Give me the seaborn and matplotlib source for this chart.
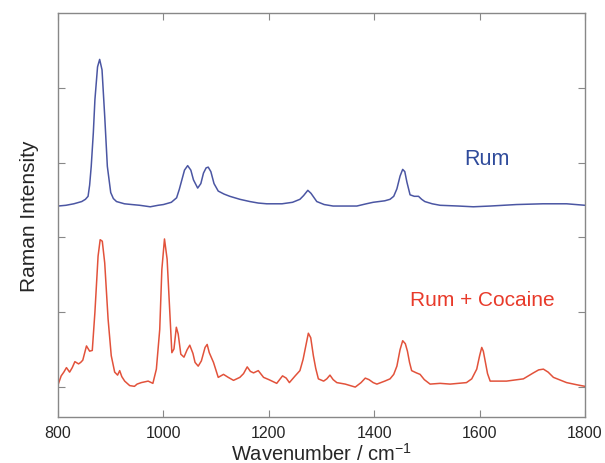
import pandas as pd
import matplotlib
matplotlib.use('Agg')
import matplotlib.pyplot as plt
import seaborn as sns

# Rum spectrum, intensity in arbitrary units
rum_wn = [800, 815, 830, 845, 852, 857, 860, 863, 867, 870, 875, 879, 883.5, 888.6,
          893.6, 900, 905, 911, 926, 940, 955, 975, 990, 1000, 1015, 1025, 1030, 1035,
          1040, 1046, 1052, 1057, 1065, 1071, 1076, 1081, 1085, 1090, 1096, 1104, 1115,
          1126, 1145, 1164, 1180, 1196, 1225, 1245, 1259, 1266, 1274, 1280, 1291, 1305,
          1322, 1345, 1367, 1385, 1398, 1420, 1430, 1437, 1443, 1449, 1454, 1458, 1462,
          1468, 1476, 1484, 1490, 1496, 1510, 1525, 1560, 1588, 1620, 1670, 1720, 1765, 1800]
rum_int = [2.42, 2.43, 2.45, 2.48, 2.51, 2.55, 2.70, 2.95, 3.40, 3.84, 4.28, 4.38, 4.24, 3.62,
           2.95, 2.60, 2.52, 2.48, 2.45, 2.44, 2.43, 2.41, 2.43, 2.44, 2.47, 2.53, 2.64, 2.77,
           2.90, 2.96, 2.90, 2.77, 2.66, 2.72, 2.86, 2.93, 2.94, 2.88, 2.72, 2.62, 2.58,
           2.55, 2.51, 2.48, 2.46, 2.45, 2.45, 2.47, 2.51, 2.56, 2.63, 2.59, 2.48, 2.44,
           2.42, 2.42, 2.42, 2.45, 2.47, 2.49, 2.51, 2.55, 2.65, 2.82, 2.91, 2.88, 2.74,
           2.57, 2.55, 2.55, 2.51, 2.48, 2.45, 2.43, 2.42, 2.41, 2.42, 2.44, 2.45, 2.45, 2.43]

# Rum + Cocaine spectrum
coc_wn = [800, 806, 811, 816, 822, 827, 832, 839, 843, 847, 854, 860, 865, 870, 876, 880,
          884, 888.6, 892, 895, 901, 907.5, 913, 917, 921, 926.5, 936, 945, 950, 958, 965,
          971, 980, 986.6, 993, 997, 1002, 1007, 1012, 1016, 1020, 1024.5, 1028, 1033, 1039,
          1045, 1050, 1056, 1060, 1066, 1072, 1079, 1083, 1087, 1095, 1104, 1114, 1123,
          1133, 1145, 1152, 1159, 1165, 1171, 1180, 1190, 1200, 1215, 1226, 1233, 1239,
          1250, 1259, 1265, 1269, 1275, 1279.5, 1284.5, 1289, 1294, 1304, 1310, 1316, 1322,
          1329, 1345, 1364, 1375, 1383, 1390, 1398, 1405, 1420, 1430, 1437, 1443, 1449,
          1454, 1459, 1463, 1467, 1471, 1480, 1487, 1495, 1506, 1525, 1544, 1560, 1575,
          1585, 1594.5, 1600, 1604, 1607, 1610, 1615, 1620, 1651, 1683, 1702, 1712, 1721,
          1730, 1740, 1765, 1785, 1800]
coc_int = [0.03, 0.15, 0.20, 0.26, 0.20, 0.26, 0.34, 0.31, 0.33, 0.36, 0.55, 0.48, 0.49, 1.00,
           1.75, 1.97, 1.95, 1.66, 1.25, 0.91, 0.42, 0.20, 0.16, 0.22, 0.14, 0.08, 0.02, 0.01,
           0.04, 0.06, 0.07, 0.08, 0.05, 0.24, 0.77, 1.57, 1.98, 1.71, 1.00, 0.46, 0.51, 0.80,
           0.71, 0.44, 0.40, 0.50, 0.56, 0.45, 0.33, 0.28, 0.35, 0.53, 0.57, 0.46, 0.33, 0.13,
           0.17, 0.13, 0.09, 0.13, 0.18, 0.27, 0.21, 0.19, 0.22, 0.13, 0.10, 0.05, 0.15, 0.12,
           0.06, 0.15, 0.22, 0.37, 0.51, 0.72, 0.66, 0.42, 0.25, 0.11, 0.08, 0.11, 0.16, 0.10,
           0.06, 0.04, 0.00, 0.06, 0.12, 0.10, 0.06, 0.04, 0.08, 0.11, 0.17, 0.28, 0.50, 0.62,
           0.58, 0.48, 0.33, 0.22, 0.19, 0.17, 0.10, 0.04, 0.05, 0.04, 0.05, 0.06, 0.11, 0.24,
           0.42, 0.53, 0.48, 0.37, 0.18, 0.08, 0.08, 0.11, 0.19, 0.23, 0.24, 0.20, 0.13, 0.06,
           0.03, 0.01]

x_ticks = [800, 1000, 1200, 1400, 1600, 1800]
y_ticks = [0, 1, 2, 3, 4]

rum_df = pd.DataFrame({'Wavenumber': rum_wn, 'Intensity': rum_int})
coc_df = pd.DataFrame({'Wavenumber': coc_wn, 'Intensity': coc_int})

sns.set_style('white')
plt.rcParams['font.family'] = ['Liberation Sans', 'DejaVu Sans']
plt.rcParams['mathtext.default'] = 'regular'

fig = plt.figure(figsize=(6.05, 4.64), dpi=100)
ax = fig.add_axes([0.0959, 0.0991, 0.8711, 0.8707])

sns.lineplot(data=rum_df, x='Wavenumber', y='Intensity', color='#4b56a3', lw=1.1, ax=ax)
sns.lineplot(data=coc_df, x='Wavenumber', y='Intensity', color='#e2523b', lw=1.1, ax=ax)

ax.text(1613, 3.05, 'Rum', color='#2f4b9b', fontsize=15.5, ha='center', va='center')
ax.text(1606, 1.17, 'Rum + Cocaine', color='#e83a2a', fontsize=15, ha='center', va='center')

ax.set_xlim(800, 1800)
ax.set_ylim(-0.4, 5.0)
ax.set_xticks(x_ticks)
ax.set_yticks(y_ticks)
ax.set_yticklabels([])
ax.tick_params(direction='in', bottom=True, left=True, top=True, right=True,
               length=5, width=0.8, color='#888888', labelsize=11.5, pad=6)
for sp in ax.spines.values():
    sp.set_color('#888888')
    sp.set_linewidth(1.0)

ax.set_xlabel('Wavenumber / cm$^{-1}$', fontsize=14.5, labelpad=1)
ax.set_ylabel('Raman Intensity', fontsize=15, labelpad=8)

fig.savefig('out.png', dpi=100)
plt.close(fig)
